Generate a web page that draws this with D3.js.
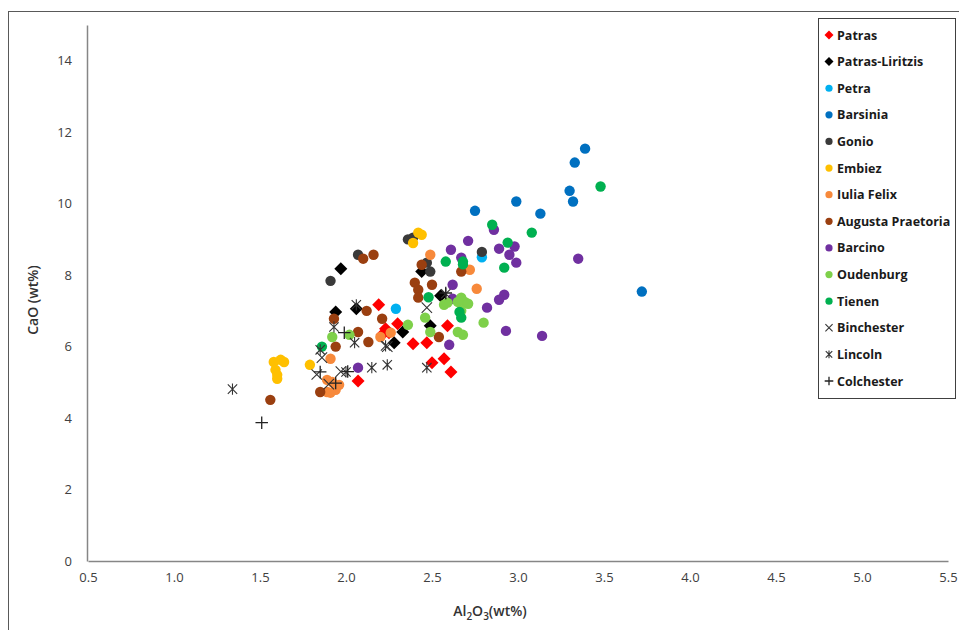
<!DOCTYPE html>
<html>
<head>
<meta charset="utf-8">
<script src="https://cdnjs.cloudflare.com/ajax/libs/d3/7.8.5/d3.min.js"></script>
<style>
  body { margin: 0; background: #fff; }
  svg { display: block; font-family: "Liberation Sans Narrow", "Liberation Sans", Arial, sans-serif; }
  .tick text { fill: #404040; font-size: 13px; font-family: "Open Sans", "Liberation Sans", sans-serif; }
  .axis path.domain { stroke: #868686; stroke-width: 1.5; }
  .legend-text { font-size: 12.5px; font-weight: bold; fill: #1a1a1a; font-family: "Open Sans", "Liberation Sans", sans-serif; }
  .axis-title { font-size: 14px; font-weight: 600; fill: #333; font-family: "Open Sans", "Liberation Sans", sans-serif; }
</style>
</head>
<body>
<svg id="chart" width="959" height="630"></svg>
<script>
(function () {
  "use strict";

  // tick values
  const xTicks = [0.5, 1.0, 1.5, 2.0, 2.5, 3.0, 3.5, 4.0, 4.5, 5.0, 5.5];
  const yTicks = [0, 2, 4, 6, 8, 10, 12, 14];

  // [Al2O3, CaO] per site
  const patras = [[2.19,7.17],[2.30,6.64],[2.23,6.50],[2.21,6.33],[2.25,6.39],[2.39,6.08],[2.47,6.11],
    [2.50,5.55],[2.57,5.66],[2.61,5.29],[2.07,5.04],[2.59,6.58]];
  const patrasLiritzis = [[1.97,8.18],[1.94,6.97],[2.06,7.06],[2.44,8.10],[2.55,7.42],[2.49,6.58],[2.33,6.41],[2.28,6.11]];
  const petra = [[2.29,7.06],[2.79,8.50]];
  const barsinia = [[3.39,11.54],[3.33,11.15],[3.30,10.36],[3.32,10.06],[2.99,10.06],[3.13,9.72],[3.72,7.54],[2.75,9.80]];
  const gonio = [[2.36,9.00],[2.39,9.05],[2.07,8.57],[1.91,7.84],[2.47,8.35],[2.49,8.10],[2.79,8.65]];
  const embiez = [[2.42,9.19],[2.44,9.13],[2.39,8.90],[1.58,5.57],[1.62,5.63],[1.64,5.57],[1.59,5.35],[1.60,5.21],[1.60,5.10],[1.79,5.49]];
  const iuliaFelix = [[2.49,8.57],[2.72,8.15],[2.76,7.62],[1.91,5.66],[1.89,5.07],[1.92,5.01],[1.96,4.93],[1.89,4.73],
    [1.94,4.79],[1.91,4.71],[2.20,6.27],[2.26,6.39]];
  const augusta = [[2.10,8.46],[2.16,8.57],[2.12,7.00],[2.21,6.78],[1.93,6.78],[2.44,8.29],[2.67,8.10],[2.40,7.79],
    [2.42,7.59],[2.42,7.37],[2.50,7.73],[2.13,6.13],[1.94,6.00],[2.54,6.27],[1.56,4.51],[1.85,4.73],[2.07,6.41]];
  const barcino = [[2.86,9.27],[2.89,8.74],[2.98,8.80],[2.95,8.57],[2.99,8.35],[3.35,8.46],[2.92,7.45],[2.89,7.31],
    [2.82,7.09],[2.93,6.44],[3.14,6.30],[2.71,8.96],[2.61,8.71],[2.67,8.49],[2.62,7.73],[2.62,7.34],[2.60,6.05],[2.07,5.41]];
  const oudenburg = [[2.67,7.37],[2.69,7.25],[2.65,7.25],[2.57,7.17],[2.59,7.23],[2.71,7.20],[2.67,7.00],[2.46,6.81],
    [2.80,6.67],[2.36,6.61],[2.49,6.41],[2.65,6.41],[2.68,6.33],[1.92,6.27],[2.02,6.33]];
  const tienen = [[3.48,10.48],[3.08,9.19],[2.94,8.91],[2.92,8.21],[2.85,9.41],[2.58,8.38],[2.68,8.38],[2.68,8.30],
    [2.48,7.38],[2.66,6.97],[2.67,6.81],[1.86,6.00]];
  const binchester = [[2.47,7.09],[1.86,5.69],[1.83,5.22],[1.97,5.30],[1.90,4.95],[2.24,6.00]];
  const lincoln = [[2.06,7.17],[1.93,6.55],[2.05,6.11],[2.23,6.02],[1.85,5.91],[1.34,4.81],[2.15,5.41],[2.24,5.49],
    [2.00,5.29],[2.47,5.41],[2.58,7.48]];
  const colchester = [[1.51,3.87],[1.85,5.29],[1.94,4.98],[1.99,6.39],[2.58,7.50],[2.01,5.30]];

  const series = [
    { name: "Patras",            data: patras,         shape: "diamond", color: "#ff0000" },
    { name: "Patras-Liritzis",   data: patrasLiritzis, shape: "diamond", color: "#000000" },
    { name: "Petra",             data: petra,          shape: "circle",  color: "#00b0f0" },
    { name: "Barsinia",          data: barsinia,       shape: "circle",  color: "#0070c0" },
    { name: "Gonio",             data: gonio,          shape: "circle",  color: "#3a3a3a" },
    { name: "Embiez",            data: embiez,         shape: "circle",  color: "#ffc000" },
    { name: "Iulia Felix",       data: iuliaFelix,     shape: "circle",  color: "#f7893b" },
    { name: "Augusta Praetoria", data: augusta,        shape: "circle",  color: "#9a3f10" },
    { name: "Barcino",           data: barcino,        shape: "circle",  color: "#7030a0" },
    { name: "Oudenburg",         data: oudenburg,      shape: "circle",  color: "#7ed04a" },
    { name: "Tienen",            data: tienen,         shape: "circle",  color: "#00b050" },
    { name: "Binchester",        data: binchester,     shape: "cross",   color: "#333333" },
    { name: "Lincoln",           data: lincoln,        shape: "star",    color: "#333333" },
    { name: "Colchester",        data: colchester,     shape: "plus",    color: "#222222" }
  ];

  const svg = d3.select("#chart");

  // outer chart border
  svg.append("rect")
    .attr("x", 8.5).attr("y", 11.5).attr("width", 960).attr("height", 640)
    .attr("fill", "none").attr("stroke", "#595959").attr("stroke-width", 1);

  const xScale = d3.scaleLinear().domain([0.5, 5.5]).range([88, 948]);
  const yScale = d3.scaleLinear().domain([0, 15]).range([561, 25]);

  // axes
  svg.append("g").attr("class", "axis")
    .attr("transform", "translate(0,561)")
    .call(d3.axisBottom(xScale).tickValues(xTicks).tickSize(0).tickPadding(12).tickFormat(d3.format(".1f")));
  svg.append("g").attr("class", "axis")
    .attr("transform", "translate(87,0)")
    .call(d3.axisLeft(yScale).tickValues(yTicks).tickSize(0).tickPadding(15).tickFormat(d3.format("d")));

  // axis titles
  svg.append("text").attr("class", "axis-title")
    .attr("transform", "translate(38,300) rotate(-90)")
    .attr("text-anchor", "middle")
    .text("CaO (wt%)");

  const xt = svg.append("text").attr("class", "axis-title")
    .attr("x", 490).attr("y", 616).attr("text-anchor", "middle");
  xt.append("tspan").text("Al");
  xt.append("tspan").attr("dy", 4).style("font-size", "10px").text("2");
  xt.append("tspan").attr("dy", -4).text("O");
  xt.append("tspan").attr("dy", 4).style("font-size", "10px").text("3");
  xt.append("tspan").attr("dy", -4).text("(wt%)");

  // marker painter
  function marker(sel, shape, color, s) {
    if (shape === "circle") {
      sel.append("circle").attr("r", s).attr("fill", color);
    } else if (shape === "diamond") {
      const d = s * 1.25;
      sel.append("path").attr("d", `M0,${-d}L${d},0L0,${d}L${-d},0Z`).attr("fill", color);
    } else if (shape === "cross") {
      const d = s;
      sel.append("path").attr("d", `M${-d},${-d}L${d},${d}M${-d},${d}L${d},${-d}`)
        .attr("stroke", color).attr("stroke-width", 1.1).attr("fill", "none");
    } else if (shape === "star") {
      const d = s * 0.9;
      sel.append("path").attr("d", `M${-d},${-d}L${d},${d}M${-d},${d}L${d},${-d}M0,${-d * 1.2}L0,${d * 1.2}`)
        .attr("stroke", color).attr("stroke-width", 1.1).attr("fill", "none");
    } else if (shape === "plus") {
      const d = s * 1.2;
      sel.append("path").attr("d", `M${-d},0L${d},0M0,${-d}L0,${d}`)
        .attr("stroke", color).attr("stroke-width", 1.3).attr("fill", "none");
    }
  }

  // points
  const plot = svg.append("g");
  series.forEach(s => {
    plot.append("g").selectAll("g")
      .data(s.data)
      .join("g")
      .attr("transform", d => `translate(${xScale(d[0])},${yScale(d[1])})`)
      .each(function () { marker(d3.select(this), s.shape, s.color, 5.2); });
  });

  // legend
  const legend = svg.append("g");
  legend.append("rect")
    .attr("x", 818.5).attr("y", 18.5).attr("width", 137).attr("height", 380)
    .attr("fill", "#fff").attr("stroke", "#404040").attr("stroke-width", 1);

  const ly = d3.scalePoint().domain(series.map(s => s.name)).range([35, 381]);
  const items = legend.selectAll("g.item")
    .data(series)
    .join("g")
    .attr("class", "item")
    .attr("transform", d => `translate(829,${ly(d.name)})`);
  items.each(function (d) { marker(d3.select(this), d.shape, d.color, 3.6); });
  items.append("text").attr("class", "legend-text")
    .attr("x", 8).attr("y", 4.5)
    .text(d => d.name);
})();
</script>
</body>
</html>
